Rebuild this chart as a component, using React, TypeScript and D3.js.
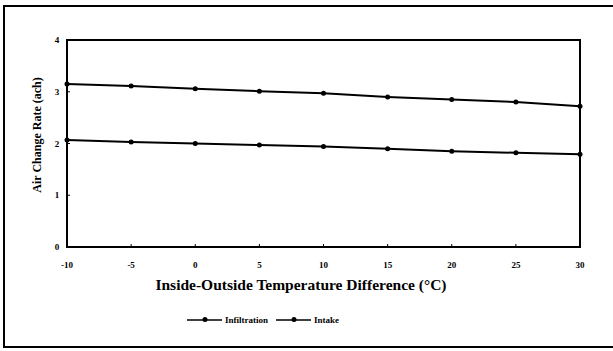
import React, { useRef, useEffect } from 'react';
import * as d3 from 'd3';

const tempDiff = [-10, -5, 0, 5, 10, 15, 20, 25, 30];
const infiltration = [2.07, 2.03, 2.0, 1.97, 1.94, 1.9, 1.85, 1.82, 1.79];
const intake = [3.15, 3.11, 3.06, 3.01, 2.97, 2.9, 2.85, 2.8, 2.72];
const yTicks = [0, 1, 2, 3, 4];
const xTicks = [-10, -5, 0, 5, 10, 15, 20, 25, 30];
const seriesNames = ['Infiltration', 'Intake'];

const App: React.FC = () => {
    const svgRef = useRef<SVGSVGElement | null>(null);

    useEffect(() => {
        const svg = d3.select(svgRef.current);
        svg.selectAll('*').remove();
        const font = '"Liberation Serif", "Times New Roman", serif';

        // outer frame (right edge runs off the picture)
        svg.append('rect')
            .attr('x', 4).attr('y', 6)
            .attr('width', 620).attr('height', 341)
            .attr('fill', 'white')
            .attr('stroke', '#000').attr('stroke-width', 2);

        const left = 67, right = 580, top = 40, bottom = 247;
        const x = d3.scaleLinear().domain([-10, 30]).range([left, right]);
        const y = d3.scaleLinear().domain([0, 4]).range([bottom, top]);

        svg.append('rect')
            .attr('x', left).attr('y', top)
            .attr('width', right - left).attr('height', bottom - top)
            .attr('fill', 'none')
            .attr('stroke', '#000').attr('stroke-width', 2);

        // ticks
        svg.selectAll('.xt').data(xTicks).enter().append('line')
            .attr('x1', d => x(d)).attr('x2', d => x(d))
            .attr('y1', bottom).attr('y2', bottom - 3)
            .attr('stroke', '#000').attr('stroke-width', 1);
        svg.selectAll('.yt').data(yTicks).enter().append('line')
            .attr('x1', left).attr('x2', left + 3)
            .attr('y1', d => y(d)).attr('y2', d => y(d))
            .attr('stroke', '#000').attr('stroke-width', 1);

        svg.selectAll('.xl').data(xTicks).enter().append('text')
            .attr('x', d => x(d)).attr('y', 268)
            .attr('text-anchor', 'middle')
            .style('font-family', font).style('font-weight', 'bold').style('font-size', '9px')
            .text(d => String(d));
        svg.selectAll('.yl').data(yTicks).enter().append('text')
            .attr('x', 57).attr('y', d => y(d) + 3)
            .attr('text-anchor', 'middle')
            .style('font-family', font).style('font-weight', 'bold').style('font-size', '9px')
            .text(d => String(d));

        svg.append('text')
            .attr('transform', 'translate(41,135) rotate(-90)')
            .attr('text-anchor', 'middle')
            .style('font-family', font).style('font-weight', 'bold').style('font-size', '12px')
            .text('Air Change Rate (ach)');
        svg.append('text')
            .attr('x', 301).attr('y', 290)
            .attr('text-anchor', 'middle')
            .style('font-family', font).style('font-weight', 'bold').style('font-size', '15.5px')
            .text('Inside-Outside Temperature Difference (°C)');

        const line = d3.line<number>()
            .x((_, i) => x(tempDiff[i]))
            .y(d => y(d));

        [infiltration, intake].forEach(vals => {
            svg.append('path')
                .attr('d', line(vals) || '')
                .attr('fill', 'none')
                .attr('stroke', '#000').attr('stroke-width', 2);
            svg.selectAll(null).data(vals).enter().append('circle')
                .attr('cx', (_, i) => x(tempDiff[i]))
                .attr('cy', d => y(d))
                .attr('r', 2.5)
                .attr('fill', '#000');
        });

        // legend
        const legendX = [187, 276];
        seriesNames.forEach((name, i) => {
            const lx = legendX[i];
            svg.append('line')
                .attr('x1', lx).attr('x2', lx + 35)
                .attr('y1', 320).attr('y2', 320)
                .attr('stroke', '#000').attr('stroke-width', 1.5);
            svg.append('circle')
                .attr('cx', lx + 18).attr('cy', 319.5).attr('r', 2.5).attr('fill', '#000');
            svg.append('text')
                .attr('x', lx + 38).attr('y', 323)
                .style('font-family', font).style('font-weight', 'bold').style('font-size', '9px')
                .text(name);
        });
    }, []);

    return (
        <svg
            ref={svgRef}
            width={613}
            height={351}
            style={{ position: 'absolute', left: 0, top: 0, display: 'block' }}
        />
    );
};

export default App;
